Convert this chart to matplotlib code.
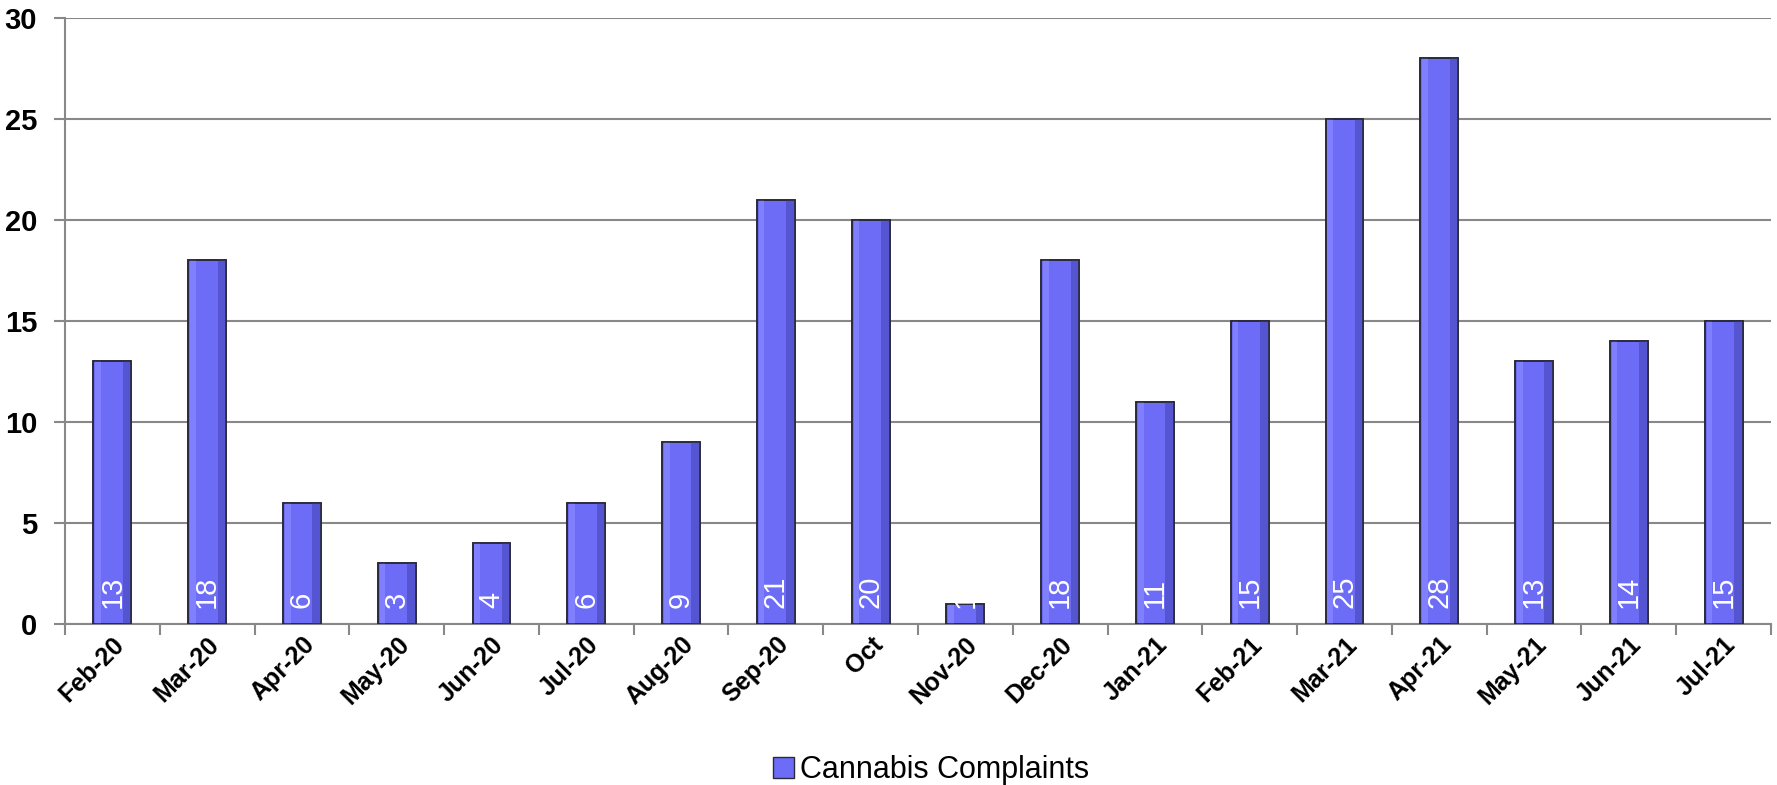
import numpy as np
import matplotlib.pyplot as plt
from matplotlib.patches import Patch

# data
months = ['Feb-20', 'Mar-20', 'Apr-20', 'May-20', 'Jun-20', 'Jul-20', 'Aug-20', 'Sep-20', 'Oct',
          'Nov-20', 'Dec-20', 'Jan-21', 'Feb-21', 'Mar-21', 'Apr-21', 'May-21', 'Jun-21', 'Jul-21']
complaints = [13, 18, 6, 3, 4, 6, 9, 21, 20, 1, 18, 11, 15, 25, 28, 13, 14, 15]

plt.rcParams['font.family'] = ['Liberation Sans', 'DejaVu Sans']

fig = plt.figure(figsize=(17.77, 7.85), dpi=100)
ax = fig.add_axes([0.0366, 0.205, 0.96, 0.7725])

x = np.arange(len(months))
w = 0.40
main_col = '#6C6CF6'
edge = '#2a2a3a'

# main bar body
ax.bar(x, complaints, width=w, color=main_col, edgecolor=edge, linewidth=1.2, zorder=3)
# bevel: lighter left strip, darker right strip
ax.bar(x - w / 2 + 0.05, complaints, width=0.06, color='#8080FF', linewidth=0, zorder=4)
ax.bar(x + w / 2 - 0.045, complaints, width=0.09, color='#5555D2', linewidth=0, zorder=4)
# redraw outline on top
ax.bar(x, complaints, width=w, color='none', edgecolor=edge, linewidth=1.2, zorder=5)

for xi, v in zip(x, complaints):
    ax.text(xi, 0.8, str(v), rotation=90, ha='center', va='bottom', color='white',
            fontsize=21, zorder=6)

ax.set_xlim(-0.5, len(months) - 0.5)
ax.set_ylim(0, 30)
ax.set_yticks(range(0, 31, 5))
ax.set_yticklabels([str(t) for t in range(0, 31, 5)], fontsize=21, fontweight='bold')
ax.yaxis.grid(True, color='#888888', linewidth=1.5, zorder=0)
ax.set_axisbelow(True)

ax.set_xticks(x)
ax.set_xticklabels(months, rotation=45, ha='right', rotation_mode='anchor',
                   fontsize=18, fontweight='bold')
ax.set_xticks(np.arange(-0.5, len(months), 1), minor=True)
ax.tick_params(axis='x', which='major', length=0, pad=6)
ax.tick_params(axis='x', which='minor', length=8, color='#888888', width=1.5, direction='out')
ax.tick_params(axis='y', length=8, color='#888888', width=1.5, pad=12)

for s in ['top', 'right']:
    ax.spines[s].set_visible(False)
for s in ['left', 'bottom']:
    ax.spines[s].set_color('#888888')
    ax.spines[s].set_linewidth(1.5)

fig.legend(handles=[Patch(facecolor=main_col, edgecolor=edge, label='Cannabis Complaints')],
           loc='lower center', bbox_to_anchor=(0.524, -0.035), frameon=False, fontsize=22,
           handlelength=0.7, handleheight=0.7, handletextpad=0.2)

fig.savefig('out.png', dpi=100)
